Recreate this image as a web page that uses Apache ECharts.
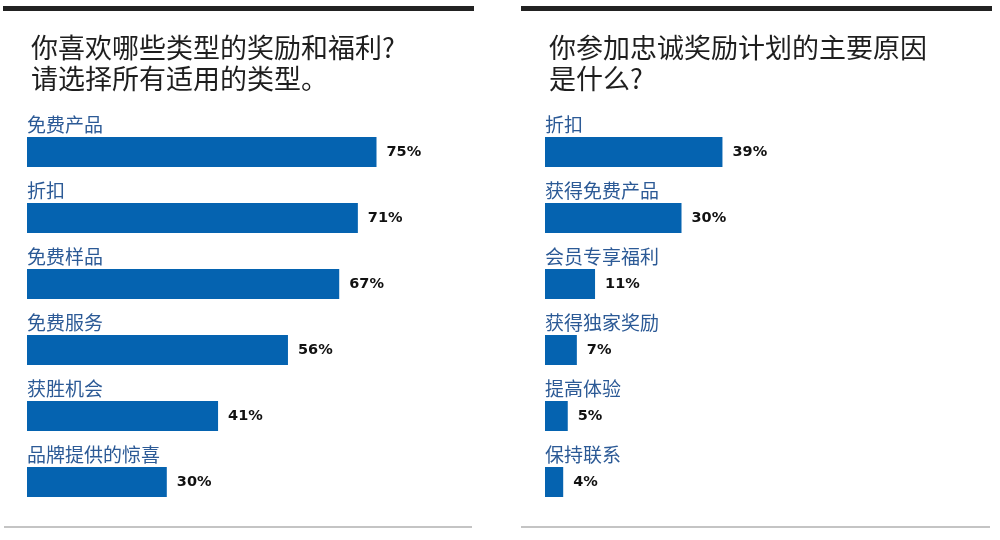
<!DOCTYPE html>
<html>
<head>
<meta charset="utf-8">
<script src="https://cdn.jsdelivr.net/npm/echarts@6/dist/echarts.min.js"></script>
<style>html,body{margin:0;padding:0;background:#fff;}#c{width:1000px;height:540px;}</style>
</head>
<body>
<div id="c"></div>
<script>
const leftTitle = '你喜欢哪些类型的奖励和福利?\n请选择所有适用的类型。';
const leftCategories = ['免费产品', '折扣', '免费样品', '免费服务', '获胜机会', '品牌提供的惊喜'];
const leftValues = [75, 71, 67, 56, 41, 30];

const rightTitle = '你参加忠诚奖励计划的主要原因\n是什么?';
const rightCategories = ['折扣', '获得免费产品', '会员专享福利', '获得独家奖励', '提高体验', '保持联系'];
const rightValues = [39, 30, 11, 7, 5, 4];

const BAR = '#0563b0';
const CAT = '#2c5a96';
const CJK = '"Noto Sans CJK SC", "Noto Sans", sans-serif';

const chart = echarts.init(document.getElementById('c'));

function grid(left) { return { left: left, top: 119, width: 466, height: 396, containLabel: false }; }
function xAxis(i) { return { gridIndex: i, type: 'value', min: 0, max: 100, show: false }; }
function yAxis(i, cats) {
  return {
    gridIndex: i, type: 'category', data: cats, inverse: true,
    axisLine: { show: false }, axisTick: { show: false }, splitLine: { show: false },
    axisLabel: {
      inside: true, margin: 0, align: 'left', verticalAlign: 'bottom',
      padding: [0, 0, 18, 0], color: CAT, fontSize: 19, fontFamily: CJK
    }
  };
}
function series(i, vals) {
  return {
    type: 'bar', xAxisIndex: i, yAxisIndex: i, data: vals, barWidth: 30,
    itemStyle: { color: BAR }, silent: true,
    label: {
      show: true, position: 'right', distance: 10, formatter: '{c}%',
      color: '#111', fontSize: 14.5, fontWeight: 'bold', fontFamily: '"DejaVu Sans", sans-serif'
    }
  };
}

const titleStyle = { fontFamily: CJK, fontSize: 27, fontWeight: 'normal', color: '#1e1e1e', lineHeight: 31 };

chart.setOption({
  animation: false,
  title: [
    { text: leftTitle, left: 26, top: 27, textStyle: titleStyle },
    { text: rightTitle, left: 544, top: 27, textStyle: titleStyle }
  ],
  grid: [grid(27), grid(545)],
  xAxis: [xAxis(0), xAxis(1)],
  yAxis: [yAxis(0, leftCategories), yAxis(1, rightCategories)],
  series: [series(0, leftValues), series(1, rightValues)],
  graphic: [
    { type: 'rect', shape: { x: 3, y: 6, width: 471, height: 5 }, style: { fill: '#222' } },
    { type: 'rect', shape: { x: 521, y: 6, width: 471, height: 5 }, style: { fill: '#222' } },
    { type: 'rect', shape: { x: 4, y: 526, width: 468, height: 2 }, style: { fill: '#c4c4c4' } },
    { type: 'rect', shape: { x: 521, y: 526, width: 469, height: 2 }, style: { fill: '#c4c4c4' } }
  ]
});
</script>
</body>
</html>
